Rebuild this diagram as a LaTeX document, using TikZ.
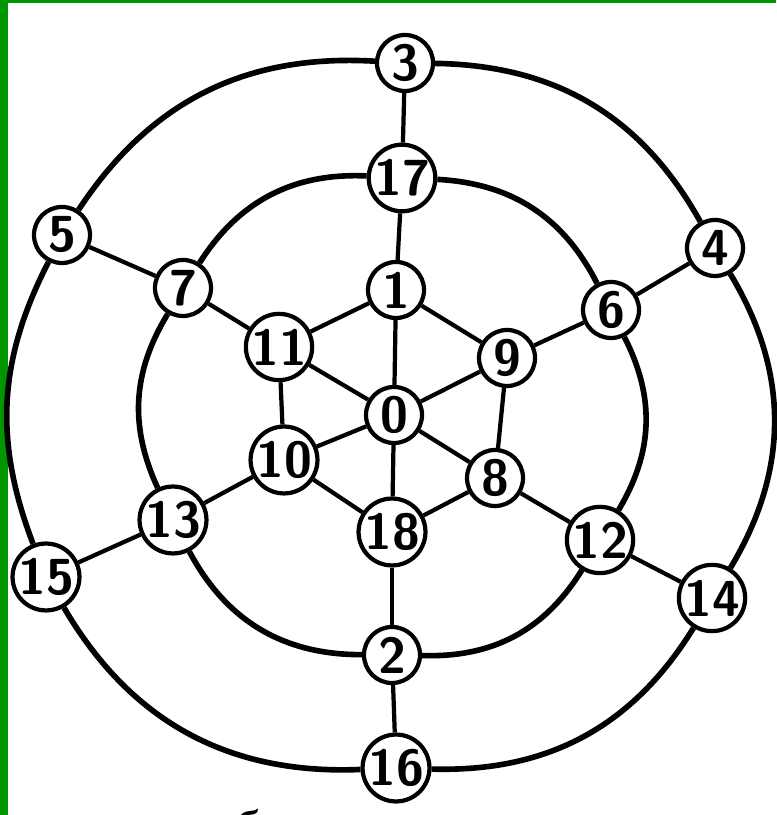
\documentclass[tikz,border=0pt]{standalone}
\usepackage{fontspec}
\newfontfamily\cyrfont{Liberation Serif}
\definecolor{framegreen}{RGB}{0,150,0}
\begin{document}
\begin{tikzpicture}[
    vertex/.style={circle, draw, fill=white, line width=1.2pt, minimum size=0.56cm, inner sep=0pt, font=\Large\sffamily\bfseries},
    ring/.style={line width=1.6pt},
    spoke/.style={line width=1.2pt}
  ]
  \useasboundingbox (0,0) rectangle (7.76,8.15);
  % green frame on the left and on top
  \fill[framegreen] (0,0) rectangle (0.08,8.15);
  \fill[framegreen] (0,8.12) rectangle (7.76,8.15);

  % outer ring
  \node[vertex] (n3) at (4.05,7.52) {3};
  \node[vertex] (n5) at (0.62,5.80) {5};
  \node[vertex] (n15) at (0.46,2.38) {15};
  \node[vertex] (n16) at (3.96,0.47) {16};
  \node[vertex] (n14) at (7.12,2.17) {14};
  \node[vertex] (n4) at (7.15,5.67) {4};
  % middle ring
  \node[vertex] (n17) at (4.02,6.37) {17};
  \node[vertex] (n7) at (1.83,5.27) {7};
  \node[vertex] (n13) at (1.73,2.95) {13};
  \node[vertex] (n2) at (3.92,1.60) {2};
  \node[vertex] (n12) at (6.00,2.75) {12};
  \node[vertex] (n6) at (6.11,5.05) {6};
  % inner hexagon and centre
  \node[vertex] (n1) at (3.96,5.25) {1};
  \node[vertex] (n11) at (2.79,4.68) {11};
  \node[vertex] (n10) at (2.84,3.55) {10};
  \node[vertex] (n18) at (3.92,2.83) {18};
  \node[vertex] (n8) at (4.95,3.37) {8};
  \node[vertex] (n9) at (5.07,4.57) {9};
  \node[vertex] (n0) at (3.94,4.00) {0};

  % arcs
  \draw[ring] (n3) to[bend right=30] (n5);
  \draw[ring] (n5) to[bend right=24] (n15);
  \draw[ring] (n15) to[bend right=31] (n16);
  \draw[ring] (n16) to[bend right=30] (n14);
  \draw[ring] (n14) to[bend right=31] (n4);
  \draw[ring] (n4) to[bend right=30] (n3);
  \draw[ring] (n17) to[bend right=30] (n7);
  \draw[ring] (n7) to[bend right=28] (n13);
  \draw[ring] (n13) to[bend right=31] (n2);
  \draw[ring] (n2) to[bend right=30] (n12);
  \draw[ring] (n12) to[bend right=29] (n6);
  \draw[ring] (n6) to[bend right=30] (n17);

  % spokes
  \foreach \a/\b in {n3/n17, n5/n7, n4/n6, n15/n13, n14/n12, n16/n2,
                     n17/n1, n7/n11, n6/n9, n13/n10, n12/n8, n2/n18,
                     n1/n11, n11/n10, n10/n18, n18/n8, n8/n9, n9/n1,
                     n0/n1, n0/n11, n0/n10, n0/n18, n0/n8, n0/n9}
    \draw[spoke] (\a) -- (\b);

  % cut-off caption letter
  \node[font=\cyrfont\Large, anchor=north] (cap) at (2.48,0.18) {б};
\end{tikzpicture}
\end{document}
